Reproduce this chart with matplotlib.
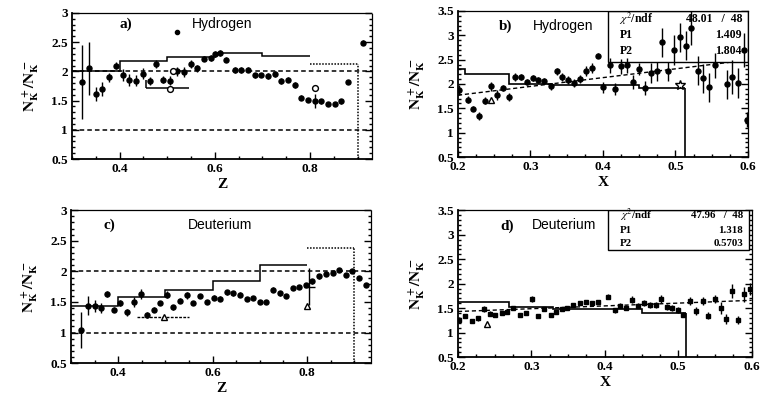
import matplotlib
matplotlib.use("Agg")
import matplotlib.pyplot as plt
import numpy as np
from matplotlib.ticker import MultipleLocator, FormatStrFormatter

plt.rcParams['mathtext.fontset'] = 'stix'

# ---------------- data ----------------
ref_levels = [1.0, 2.0]

# a) hydrogen vs z
a_z = [0.321, 0.336, 0.350, 0.363, 0.377, 0.393, 0.408, 0.420, 0.434, 0.449,
       0.463, 0.477, 0.491, 0.505, 0.520, 0.535, 0.550, 0.563, 0.577, 0.591,
       0.600, 0.610, 0.624, 0.642, 0.655, 0.670, 0.684, 0.698, 0.712, 0.726,
       0.740, 0.754, 0.768, 0.782, 0.796, 0.810, 0.824, 0.838, 0.852, 0.866,
       0.880, 0.911]
a_r = [1.82, 2.05, 1.61, 1.69, 1.90, 2.10, 1.94, 1.85, 1.84, 1.96,
       1.84, 2.13, 1.86, 1.84, 2.00, 1.99, 2.12, 2.05, 2.22, 2.23,
       2.30, 2.32, 2.20, 2.02, 2.02, 2.03, 1.93, 1.94, 1.92, 1.95,
       1.84, 1.86, 1.76, 1.55, 1.51, 1.49, 1.49, 1.45, 1.44, 1.49,
       1.82, 2.49]
a_err = [0.63, 0.45, 0.12, 0.12, 0.08, 0.06, 0.10, 0.10, 0.09, 0.09,
         0.07, 0.07, 0.06, 0.08, 0.08, 0.08, 0.07, 0.06, 0.05, 0.05,
         0.05, 0.05, 0.04, 0.05, 0.05, 0.04, 0.04, 0.04, 0.05, 0.05,
         0.05, 0.05, 0.05, 0.04, 0.04, 0.12, 0.04, 0.03, 0.03, 0.04,
         0.04, 0.04]
a_open_z = [0.505, 0.512, 0.810]
a_open_r = [1.69, 2.00, 1.72]
a_stray_z = [0.520]
a_stray_r = [2.68]
a_edges = [0.3, 0.4, 0.5, 0.6, 0.7, 0.8]
a_hist = [2.00, 2.17, 2.25, 2.32, 2.27]
a_last_edges = [0.8, 0.9]
a_last_hist = [2.13]
a_low_edges = [0.455, 0.545]
a_low_hist = [1.72]

# b) hydrogen vs x
b_x = [0.2015, 0.2134, 0.221, 0.229, 0.237, 0.2455, 0.254, 0.2625, 0.271, 0.279,
       0.2865, 0.295, 0.303, 0.311, 0.319, 0.328, 0.336, 0.344, 0.352, 0.360,
       0.368, 0.377, 0.385, 0.3935, 0.400, 0.410, 0.4165, 0.425, 0.4335, 0.442,
       0.450, 0.458, 0.466, 0.474, 0.482, 0.490, 0.498, 0.506, 0.5145, 0.522,
       0.531, 0.538, 0.547, 0.5545, 0.571, 0.578, 0.587, 0.594, 0.599]
b_r = [1.88, 1.68, 1.49, 1.34, 1.66, 1.95, 1.78, 1.92, 1.73, 2.14,
       2.14, 2.04, 2.12, 2.09, 2.06, 1.95, 2.26, 2.14, 2.09, 2.02,
       2.11, 2.26, 2.33, 2.58, 1.93, 2.38, 1.90, 2.36, 2.38, 2.04,
       2.31, 1.92, 2.23, 2.26, 2.86, 2.26, 2.70, 2.96, 2.79, 3.16,
       2.27, 2.12, 1.93, 2.38, 1.99, 2.14, 2.02, 2.70, 1.27]
b_err = [0.10, 0.08, 0.05, 0.08, 0.08, 0.10, 0.10, 0.06, 0.08, 0.08,
         0.06, 0.06, 0.06, 0.06, 0.06, 0.07, 0.07, 0.08, 0.08, 0.08,
         0.08, 0.10, 0.10, 0.05, 0.12, 0.15, 0.12, 0.15, 0.15, 0.15,
         0.12, 0.15, 0.20, 0.20, 0.30, 0.20, 0.30, 0.30, 0.30, 0.35,
         0.30, 0.30, 0.30, 0.25, 0.30, 0.35, 0.30, 0.35, 0.15]
b_open_x = [0.2455, 0.506]
b_open_r = [1.68, 1.97]
b_edges = [0.2, 0.21, 0.27, 0.33, 0.45, 0.513]
b_hist = [2.31, 2.20, 2.00, 1.97, 1.91]
b_fit = [1.409, 1.804]          # P1, P2
b_chi2 = ["48.01", "48"]

# c) deuterium vs z
c_z = [0.3205, 0.336, 0.350, 0.363, 0.377, 0.391, 0.404, 0.419, 0.433, 0.4475,
       0.461, 0.475, 0.489, 0.503, 0.516, 0.531, 0.5455, 0.558, 0.574, 0.588,
       0.602, 0.615, 0.630, 0.644, 0.658, 0.672, 0.686, 0.700, 0.714, 0.728,
       0.742, 0.755, 0.771, 0.783, 0.797, 0.811, 0.825, 0.840, 0.854, 0.868,
       0.882, 0.896, 0.910, 0.924]
c_r = [1.04, 1.44, 1.44, 1.40, 1.63, 1.37, 1.48, 1.33, 1.50, 1.63,
       1.28, 1.37, 1.49, 1.62, 1.41, 1.52, 1.61, 1.49, 1.59, 1.50,
       1.57, 1.55, 1.66, 1.64, 1.62, 1.55, 1.57, 1.50, 1.50, 1.70,
       1.64, 1.59, 1.73, 1.74, 1.78, 1.84, 1.92, 1.95, 1.97, 2.02,
       1.94, 2.00, 1.89, 1.78]
c_err = [0.29, 0.15, 0.10, 0.08, 0.05, 0.04, 0.05, 0.06, 0.08, 0.08,
         0.05, 0.04, 0.03, 0.06, 0.04, 0.04, 0.06, 0.03, 0.03, 0.03,
         0.04, 0.04, 0.04, 0.04, 0.04, 0.03, 0.03, 0.03, 0.03, 0.04,
         0.04, 0.03, 0.03, 0.03, 0.03, 0.04, 0.04, 0.03, 0.03, 0.03,
         0.03, 0.03, 0.03, 0.03]
c_open_z = [0.498, 0.799]
c_open_r = [1.25, 1.44]
c_sys_z = [0.805]
c_sys_r = [1.75]
c_sys_err = [0.30]
c_edges = [0.3, 0.4, 0.5, 0.6, 0.7, 0.8]
c_hist = [1.43, 1.58, 1.69, 1.85, 2.10]
c_last_edges = [0.8, 0.9]
c_last_hist = [2.38]
c_low_edges = [0.44, 0.55]
c_low_hist = [1.25]

# d) deuterium vs x
d_x = [0.2014, 0.2095, 0.2186, 0.227, 0.236, 0.2435, 0.251, 0.2595, 0.267, 0.275,
       0.284, 0.292, 0.301, 0.309, 0.317, 0.326, 0.334, 0.341, 0.349, 0.357,
       0.366, 0.374, 0.382, 0.390, 0.4045, 0.414, 0.421, 0.429, 0.437, 0.445,
       0.453, 0.461, 0.469, 0.477, 0.485, 0.492, 0.500, 0.5065, 0.5155, 0.5245,
       0.533, 0.5405, 0.5497, 0.5578, 0.5646, 0.5737, 0.5813, 0.589, 0.597]
d_r = [1.26, 1.35, 1.24, 1.29, 1.48, 1.39, 1.37, 1.41, 1.43, 1.50,
       1.36, 1.41, 1.69, 1.33, 1.48, 1.37, 1.43, 1.48, 1.50, 1.56,
       1.60, 1.63, 1.60, 1.62, 1.735, 1.46, 1.55, 1.51, 1.67, 1.55,
       1.60, 1.56, 1.56, 1.69, 1.53, 1.51, 1.46, 1.37, 1.645, 1.44,
       1.645, 1.35, 1.69, 1.50, 1.28, 1.85, 1.26, 1.78, 1.89]
d_err = [0.05, 0.04, 0.04, 0.05, 0.06, 0.05, 0.04, 0.04, 0.04, 0.04,
         0.04, 0.04, 0.06, 0.04, 0.04, 0.04, 0.03, 0.03, 0.03, 0.04,
         0.04, 0.04, 0.04, 0.04, 0.05, 0.05, 0.05, 0.05, 0.07, 0.05,
         0.06, 0.06, 0.06, 0.08, 0.06, 0.06, 0.06, 0.06, 0.08, 0.08,
         0.08, 0.08, 0.08, 0.12, 0.10, 0.15, 0.08, 0.15, 0.12]
d_open_x = [0.240]
d_open_r = [1.17]
d_edges = [0.2, 0.27, 0.33, 0.45, 0.51]
d_hist = [1.62, 1.52, 1.48, 1.40]
d_fit = [1.318, 0.5703]
d_chi2 = ["47.96", "48"]

ylab = r'$\mathbf{N_{K}^{\,+}/N_{K}^{\,-}}$'
tick_font = dict(family='Liberation Serif', weight='bold', size=9.5)
txt_font = dict(family='Liberation Sans', size=10)

fig = plt.figure(figsize=(7.71, 3.99), dpi=100)
ax_a = fig.add_axes([0.0934, 0.6015, 0.389, 0.366])
ax_b = fig.add_axes([0.594, 0.6065, 0.376, 0.366])
ax_c = fig.add_axes([0.092, 0.090, 0.389, 0.383])
ax_d = fig.add_axes([0.594, 0.105, 0.381, 0.368])


def style(ax, xlim, ylim, xlabel, dotted_frame):
    ax.set_xlim(*xlim)
    ax.set_ylim(*ylim)
    ax.yaxis.set_major_locator(MultipleLocator(0.5))
    ax.yaxis.set_minor_locator(MultipleLocator(0.1))
    ax.xaxis.set_major_locator(MultipleLocator(0.2 if xlim[1] > 0.7 else 0.1))
    ax.xaxis.set_minor_locator(MultipleLocator(0.05 if xlim[1] > 0.7 else 0.025))
    ax.yaxis.set_major_formatter(FormatStrFormatter('%g'))
    ax.xaxis.set_major_formatter(FormatStrFormatter('%g'))
    ax.tick_params(which='both', direction='in', right=True, top=False,
                   width=1, pad=3)
    ax.tick_params(which='major', length=5)
    ax.tick_params(which='minor', length=2.5)
    for lab in ax.get_xticklabels() + ax.get_yticklabels():
        lab.set_fontproperties(tick_font)
    for s in ['left', 'bottom']:
        ax.spines[s].set_linewidth(1.3)
    for s in ['top', 'right']:
        ax.spines[s].set_linewidth(0.9)
        if dotted_frame:
            ax.spines[s].set_linestyle((0, (2, 1)))
    ax.set_xlabel(xlabel, fontdict=dict(family='Liberation Serif',
                                         weight='bold', size=11), labelpad=2)
    ax.set_ylabel(ylab, fontsize=11, labelpad=7)


def points(ax, x, y, err, marker='o', ms=3.6):
    ax.errorbar(x, y, yerr=err, fmt=marker, color='k', ms=ms,
                elinewidth=1.0, capsize=0, zorder=4)


def stats_box(ax, rect, chi2, fit, rows_y, size):
    x0, y0, w, h = rect
    ax.add_patch(plt.Rectangle((x0, y0), w, h, transform=ax.transAxes,
                               facecolor='white', edgecolor='k', lw=1.0,
                               zorder=2))
    rows = [(r'$\chi^2$/ndf', chi2[0] + '   /  ' + chi2[1]),
            ('P1', '%g' % fit[0]), ('P2', '%g' % fit[1])]
    for (lab, val), fy in zip(rows, rows_y):
        yy = y0 + h * fy
        ax.text(x0 + 0.04, yy, lab, transform=ax.transAxes, va='center',
                family='Liberation Serif', weight='bold', size=size, zorder=3)
        ax.text(x0 + w - 0.02, yy, val, transform=ax.transAxes, va='center',
                ha='right', family='Liberation Serif', weight='bold',
                size=size, zorder=3)


# ---- a ----
ax = ax_a
style(ax, (0.3, 0.93), (0.5, 3.0), 'Z', True)
for lv in ref_levels:
    ax.axhline(lv, color='k', ls=(0, (3, 2)), lw=1.1, zorder=1)
ax.stairs(a_hist, a_edges, baseline=None, color='k', lw=1.1, zorder=2)
ax.stairs(a_last_hist, a_last_edges, baseline=None, color='k', lw=1.1,
          ls=(0, (1, 1)), zorder=2)
ax.vlines(a_last_edges[-1], 0.5, a_last_hist[-1], color='k', lw=1.1,
          ls=(0, (1, 1)), zorder=2)
ax.stairs(a_low_hist, a_low_edges, baseline=None, color='k', lw=1.1, zorder=2)
ax.vlines(a_low_edges[0], a_low_hist[0], a_low_hist[0] + 0.13, color='k', lw=1.1)
points(ax, a_z, a_r, a_err)
ax.plot(a_open_z, a_open_r, 'o', mfc='white', mec='k', ms=4.2, zorder=5)
ax.plot(a_stray_z, a_stray_r, 'o', color='k', ms=3, zorder=5)
ax.text(0.16, 0.9, 'a)', transform=ax.transAxes, family='Liberation Serif',
        weight='bold', size=11)
ax.text(0.40, 0.9, 'Hydrogen', transform=ax.transAxes, **txt_font)

# ---- b ----
ax = ax_b
style(ax, (0.2, 0.6), (0.5, 3.5), 'X', False)
xf = np.array(ax.get_xlim())
ax.plot(xf, b_fit[0] + b_fit[1] * xf, color='k', ls=(0, (3, 2)), lw=1.0,
        zorder=1)
ax.stairs(b_hist, b_edges, baseline=None, color='k', lw=1.2, zorder=2)
ax.vlines(b_edges[-1], 0.5, b_hist[-1], color='k', lw=1.2, zorder=2)
stats_box(ax, (0.517, 0.65, 0.483, 0.35), b_chi2, b_fit,
          (0.84, 0.53, 0.22), 8.5)
points(ax, b_x, b_r, b_err)
ax.plot(b_open_x[:1], b_open_r[:1], '^', mfc='white', mec='k', ms=4.2, zorder=5)
ax.plot(b_open_x[1:], b_open_r[1:], '*', mfc='white', mec='k', ms=7, zorder=5)
ax.text(0.14, 0.87, 'b)', transform=ax.transAxes, family='Liberation Serif',
        weight='bold', size=11)
ax.text(0.26, 0.87, 'Hydrogen', transform=ax.transAxes, **txt_font)

# ---- c ----
ax = ax_c
style(ax, (0.3, 0.935), (0.5, 3.0), 'Z', True)
for lv in ref_levels:
    ax.axhline(lv, color='k', ls=(0, (3, 2)), lw=1.1, zorder=1)
ax.stairs(c_hist, c_edges, baseline=None, color='k', lw=1.1, zorder=2)
ax.stairs(c_last_hist, c_last_edges, baseline=None, color='k', lw=1.1,
          ls=(0, (1, 1)), zorder=2)
ax.vlines(c_last_edges[-1], 0.5, c_last_hist[-1], color='k', lw=1.1,
          ls=(0, (1, 1)), zorder=2)
ax.stairs(c_low_hist, c_low_edges, baseline=None, color='k', lw=1.0,
          ls=(0, (2, 1)), zorder=2)
points(ax, c_z, c_r, c_err)
ax.errorbar(c_sys_z, c_sys_r, yerr=c_sys_err, xerr=0.012, fmt='none',
            ecolor='k', elinewidth=1.0, zorder=3)
ax.plot(c_open_z, c_open_r, '^', mfc='white', mec='k', ms=4.2, zorder=5)
ax.text(0.11, 0.88, 'c)', transform=ax.transAxes, family='Liberation Serif',
        weight='bold', size=11)
ax.text(0.39, 0.88, 'Deuterium', transform=ax.transAxes, **txt_font)

# ---- d ----
ax = ax_d
style(ax, (0.2, 0.6), (0.5, 3.5), 'X', False)
xf = np.array(ax.get_xlim())
ax.plot(xf, d_fit[0] + d_fit[1] * xf, color='k', ls=(0, (3, 2)), lw=1.0,
        zorder=1)
ax.stairs(d_hist, d_edges, baseline=None, color='k', lw=1.2, zorder=2)
ax.vlines(d_edges[-1], 0.5, d_hist[-1], color='k', lw=1.2, zorder=2)
stats_box(ax, (0.51, 0.727, 0.48, 0.273), d_chi2, d_fit,
          (0.86, 0.50, 0.17), 7.8)
points(ax, d_x, d_r, d_err, marker='s', ms=3.2)
ax.plot(d_open_x, d_open_r, '^', mfc='white', mec='k', ms=4, zorder=5)
ax.text(0.145, 0.87, 'd)', transform=ax.transAxes, family='Liberation Serif',
        weight='bold', size=11)
ax.text(0.25, 0.87, 'Deuterium', transform=ax.transAxes, **txt_font)

fig.savefig('out.png', dpi=100)
